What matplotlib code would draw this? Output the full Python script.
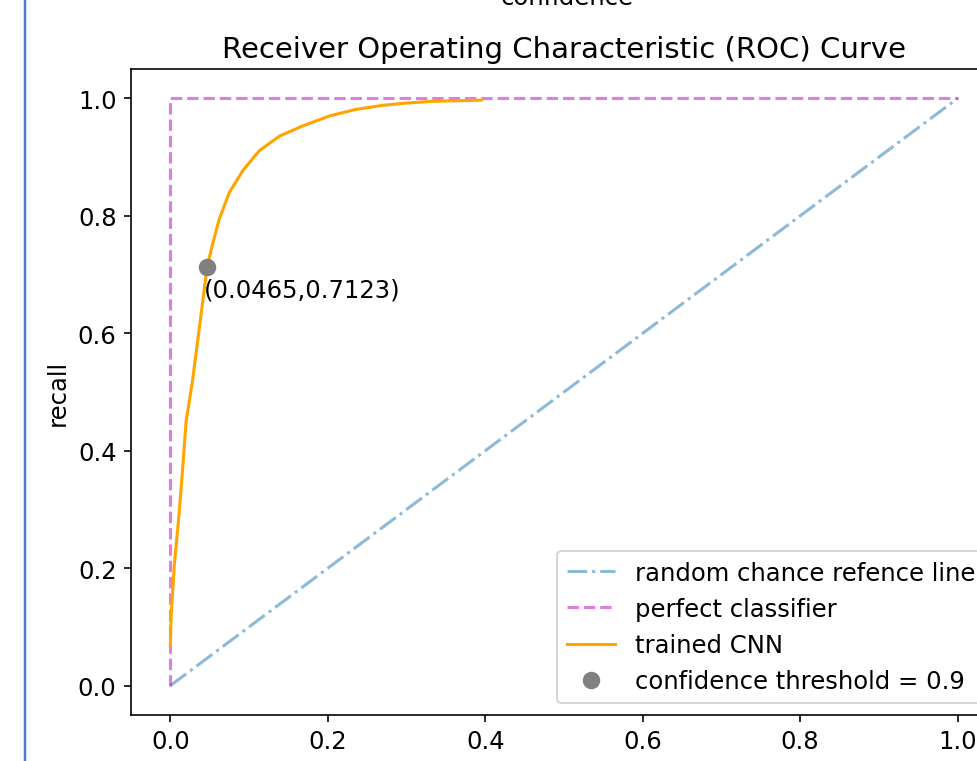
import numpy as np
import matplotlib.pyplot as plt
from matplotlib.lines import Line2D

# ROC curve of the trained CNN
fpr = [0.0, 0.001, 0.005, 0.011, 0.016, 0.020, 0.028, 0.039, 0.0465, 0.054,
       0.062, 0.075, 0.092, 0.113, 0.139, 0.168, 0.202, 0.235, 0.269, 0.300,
       0.333, 0.365, 0.395]
tpr = [0.069, 0.120, 0.205, 0.291, 0.376, 0.450, 0.518, 0.632, 0.7123, 0.754,
       0.794, 0.840, 0.877, 0.911, 0.936, 0.953, 0.970, 0.981, 0.988, 0.992,
       0.995, 0.996, 0.997]

rand_x = [0, 1]
rand_y = [0, 1]
perf_x = [0, 0, 1]
perf_y = [0, 1, 1]

thr_x = 0.0465
thr_y = 0.7123
thr = 0.9

plt.rcParams['font.size'] = 11.8

dpi = 148
fig = plt.figure(figsize=(977 / dpi, 762 / dpi), dpi=dpi)
# the screenshot is cropped: axes run past the right edge
ax = fig.add_axes([131 / 977, 46 / 762, 866 / 977, 646 / 762])

ax.plot(rand_x, rand_y, '-.', color='C0', alpha=0.5, label='random chance refence line')
ax.plot(perf_x, perf_y, '--', color='m', alpha=0.5, label='perfect classifier')
ax.plot(fpr, tpr, color='orange', label='trained CNN')
ax.plot(thr_x, thr_y, 'o', color='grey', markersize=7.5, linestyle='none',
        label='confidence threshold = %g' % thr)
ax.text(thr_x - 0.004, thr_y - 0.05, '(%.4f,%.4f)' % (thr_x, thr_y))

ax.set_xlim(-0.05, 1.05)
ax.set_ylim(-0.05, 1.05)
ax.set_ylabel('recall')
ax.set_title('Receiver Operating Characteristic (ROC) Curve')
ax.legend(loc='lower right')

# bits of the surrounding screenshot
fig.text(567 / 977, 1 - 5 / 762, 'confidence', ha='center', va='baseline')
fig.add_artist(Line2D([25 / 977, 25 / 977], [0, 1], color='#4a7fd4', lw=1.2))

fig.savefig('out.png', dpi=dpi)
